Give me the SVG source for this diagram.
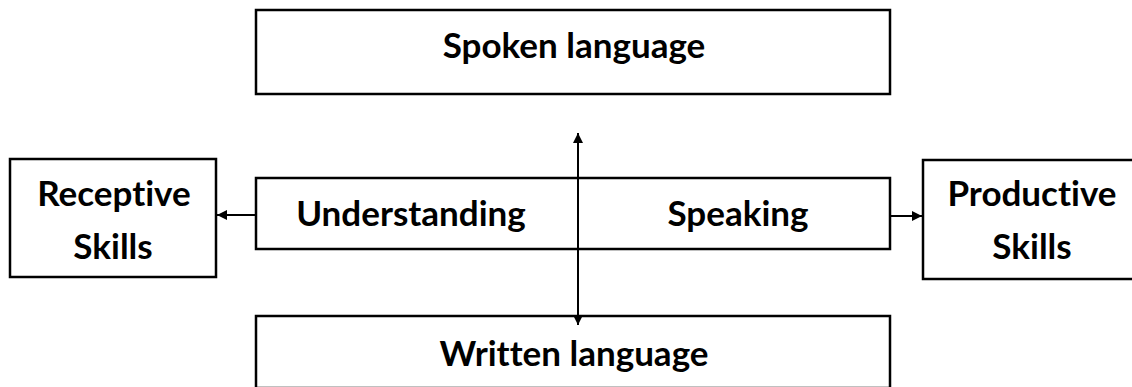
<svg xmlns="http://www.w3.org/2000/svg" width="1132" height="387" viewBox="0 0 1132 387">
  <defs>
    <marker id="arrow" viewBox="0 0 10 10" refX="10" refY="5" markerWidth="5" markerHeight="5" orient="auto-start-reverse" markerUnits="strokeWidth">
      <path d="M0,0 L10,5 L0,10 z" fill="#000"/>
    </marker>
    <style>
      .box { fill: #fff; stroke: #000; stroke-width: 2.5; }
      .label { font-family: Lato, "Open Sans", "Liberation Sans", sans-serif; font-weight: bold; font-size: 35px; fill: #000; text-anchor: middle; font-variant-ligatures: none; font-feature-settings: "liga" 0, "dlig" 0; }
      .conn { stroke: #000; stroke-width: 2; fill: none; }
    </style>
  </defs>
  <rect width="1132" height="387" fill="#fff"/>

  <g id="spoken">
    <rect class="box" x="256" y="10" width="634" height="84"/>
    <text class="label" x="574" y="58">Spoken language</text>
  </g>

  <g id="center">
    <rect class="box" x="256" y="178" width="634" height="71"/>
    <text class="label" x="411" y="226">Understanding</text>
    <text class="label" x="738" y="226">Speaking</text>
  </g>

  <g id="receptive">
    <rect class="box" x="10" y="159" width="206" height="118"/>
    <text class="label" x="114" y="206">Receptive</text>
    <text class="label" x="113" y="259">Skills</text>
  </g>

  <g id="productive">
    <rect class="box" x="923" y="160" width="212" height="119"/>
    <text class="label" x="1032" y="206">Productive</text>
    <text class="label" x="1032" y="259">Skills</text>
  </g>

  <g id="written">
    <rect class="box" x="256" y="316" width="634" height="72"/>
    <text class="label" x="574" y="366">Written language</text>
  </g>

  <g id="connectors">
    <line class="conn" x1="578" y1="133" x2="578" y2="325" marker-start="url(#arrow)" marker-end="url(#arrow)"/>
    <line class="conn" x1="256" y1="215" x2="217" y2="215" marker-end="url(#arrow)"/>
    <line class="conn" x1="890" y1="216" x2="922" y2="216" marker-end="url(#arrow)"/>
  </g>
</svg>
